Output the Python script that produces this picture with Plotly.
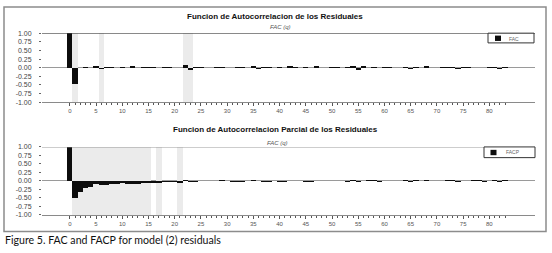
import plotly.graph_objects as go

W, H = 552, 253

lags = list(range(0, 84))

fac = [1.00, -0.48, 0.00, 0.02, -0.02, 0.04, -0.05, 0.02, 0.02, 0.00,
       0.01, -0.02, 0.04, 0.00, 0.01, 0.02, 0.01, 0.00, 0.02, 0.01,
       -0.02, 0.00, 0.08, -0.06, 0.03, 0.01, -0.01, 0.00, 0.02, 0.02,
       -0.02, 0.00, 0.01, 0.01, 0.00, 0.04, -0.03, 0.01, 0.01, 0.00,
       0.01, 0.00, 0.04, 0.01, 0.00, 0.02, 0.00, 0.05, -0.02, 0.00,
       0.01, 0.01, 0.00, 0.01, 0.06, -0.06, 0.04, 0.00, 0.01, 0.00,
       0.02, 0.01, 0.00, -0.01, 0.03, -0.03, 0.03, 0.00, 0.06, -0.01,
       0.00, 0.03, 0.01, 0.03, -0.03, 0.02, 0.01, 0.00, -0.01, 0.00,
       0.03, 0.01, -0.05, 0.03]

facp = [1.00, -0.49, -0.31, -0.22, -0.17, -0.10, -0.12, -0.12, -0.10, -0.08,
        -0.06, -0.10, -0.09, -0.08, -0.07, -0.06, -0.05, -0.05, -0.03, -0.02,
        -0.03, -0.07, 0.03, -0.02, -0.03, 0.00, 0.00, 0.01, 0.00, 0.03,
        0.00, -0.03, -0.03, -0.02, 0.00, 0.03, -0.01, -0.02, -0.02, 0.00,
        -0.03, -0.03, 0.00, 0.00, 0.00, -0.02, -0.02, 0.00, 0.00, -0.01,
        0.00, -0.01, 0.00, -0.03, 0.03, -0.02, 0.00, 0.03, 0.02, -0.02,
        0.00, 0.00, 0.01, 0.00, 0.03, -0.02, 0.02, -0.01, 0.02, 0.00,
        -0.01, 0.01, 0.02, 0.04, -0.02, 0.00, 0.00, 0.02, 0.02, -0.04,
        -0.01, 0.02, -0.04, 0.04]

fac_bands = [1, 6, 22, 23]
facp_bands = [1, 2, 3, 4, 5, 6, 7, 8, 9, 10, 11, 12, 13, 14, 15, 17, 21]

x_tick_vals = list(range(0, 81, 5))
y_tick_vals = [1.0, 0.75, 0.5, 0.25, 0.0, -0.25, -0.5, -0.75, -1.0]
y_tick_text = ["%.2f" % v for v in y_tick_vals]

title_top = "Funcion de Autocorrelacion de los Residuales"
title_bot = "Funcion de Autocorrelacion Parcial de los Residuales"
subtitle = "FAC (q)"
caption = "Figure 5. FAC and FACP for model (2) residuals"


def px(x):
    return x / W


def py(y):
    return 1 - y / H


BAND = "#ebebeb"
BAR = "#0d0d0d"

fig = go.Figure()

fig.add_trace(go.Bar(x=fac_bands, y=[2] * len(fac_bands), base=-1, width=1,
                     marker=dict(color=BAND, line=dict(width=0)),
                     xaxis="x", yaxis="y", showlegend=False, hoverinfo="skip"))
fig.add_trace(go.Bar(x=lags, y=fac, width=1, name="FAC",
                     marker=dict(color=BAR, line=dict(width=0)),
                     xaxis="x", yaxis="y", showlegend=False))
fig.add_trace(go.Bar(x=facp_bands, y=[2] * len(facp_bands), base=-1, width=1,
                     marker=dict(color=BAND, line=dict(width=0)),
                     xaxis="x2", yaxis="y2", showlegend=False, hoverinfo="skip"))
fig.add_trace(go.Bar(x=lags, y=facp, width=1, name="FACP",
                     marker=dict(color=BAR, line=dict(width=0)),
                     xaxis="x2", yaxis="y2", showlegend=False))

xdom = [px(42), px(535)]
xr = [-5.3, 88.7]

xcommon = dict(domain=xdom, range=xr, showgrid=False, zeroline=False,
               showline=True, linecolor="#8a8a8a", linewidth=1,
               ticks="outside", ticklen=3, tickcolor="#555", tickwidth=1,
               tickmode="array", tickvals=x_tick_vals,
               tickfont=dict(family="Liberation Sans", size=6, color="#555"),
               minor=dict(tickmode="array", tickvals=lags, ticks="outside",
                          ticklen=2, tickcolor="#555", tickwidth=1, showgrid=False),
               fixedrange=True)
ycommon = dict(range=[-1, 1], showgrid=False, zeroline=True,
               zerolinecolor="#9a9a9a", zerolinewidth=1, showline=False,
               ticks="outside", ticklen=2, tickcolor="#666",
               tickmode="array", tickvals=y_tick_vals, ticktext=y_tick_text,
               ticklabelstandoff=6,
               tickfont=dict(family="Liberation Sans", size=7, color="#444"),
               fixedrange=True)

shapes = [
    # outer frame
    dict(type="rect", xref="paper", yref="paper", x0=px(4), x1=px(546),
         y0=py(234), y1=py(3), line=dict(color="#8c8c8c", width=1.5)),
    # top lines of panels
    dict(type="line", xref="x domain", yref="y", x0=0, x1=1, y0=1, y1=1,
         line=dict(color="#111", width=1)),
    dict(type="line", xref="x2 domain", yref="y2", x0=0, x1=1, y0=1, y1=1,
         line=dict(color="#8a8a8a", width=1)),
    # legend boxes
    dict(type="rect", xref="paper", yref="paper", x0=px(488), x1=px(534),
         y0=py(40), y1=py(30), line=dict(color="#333", width=1), fillcolor="white"),
    dict(type="rect", xref="paper", yref="paper", x0=px(495), x1=px(501),
         y0=py(38), y1=py(32.5), line=dict(width=0), fillcolor=BAR),
    dict(type="rect", xref="paper", yref="paper", x0=px(484), x1=px(535),
         y0=py(158), y1=py(147), line=dict(color="#333", width=1), fillcolor="white"),
    dict(type="rect", xref="paper", yref="paper", x0=px(490.5), x1=px(496.5),
         y0=py(155.5), y1=py(150), line=dict(width=0), fillcolor=BAR),
]

annotations = [
    dict(text="<b>" + title_top + "</b>", x=px(275), y=py(13), xref="paper", yref="paper",
         showarrow=False, xanchor="center", yanchor="middle",
         font=dict(family="Liberation Sans", size=8, color="#111")),
    dict(text="<i>" + subtitle + "</i>", x=px(280), y=py(24), xref="paper", yref="paper",
         showarrow=False, xanchor="center", yanchor="middle",
         font=dict(family="Liberation Sans", size=6, color="#555")),
    dict(text="<b>" + title_bot + "</b>", x=px(275.5), y=py(129.5), xref="paper", yref="paper",
         showarrow=False, xanchor="center", yanchor="middle",
         font=dict(family="Liberation Sans", size=8, color="#111")),
    dict(text="<i>" + subtitle + "</i>", x=px(277), y=py(143), xref="paper", yref="paper",
         showarrow=False, xanchor="center", yanchor="middle",
         font=dict(family="Liberation Sans", size=6, color="#555")),
    dict(text="FAC", x=px(507), y=py(35.5), xref="paper", yref="paper",
         showarrow=False, xanchor="left", yanchor="middle",
         font=dict(family="Liberation Sans", size=5, color="#666")),
    dict(text="FACP", x=px(504), y=py(152.5), xref="paper", yref="paper",
         showarrow=False, xanchor="left", yanchor="middle",
         font=dict(family="Liberation Sans", size=5, color="#666")),
    dict(text=caption, x=px(3), y=py(242.5), xref="paper", yref="paper",
         showarrow=False, xanchor="left", yanchor="middle",
         font=dict(family="Lato", size=10.6, color="#111")),
]

fig.update_layout(
    width=W, height=H,
    margin=dict(l=0, r=0, t=0, b=0),
    paper_bgcolor="white", plot_bgcolor="white",
    barmode="overlay", bargap=0,
    showlegend=False,
    xaxis=dict(anchor="y", **xcommon),
    yaxis=dict(anchor="x", domain=[py(101), py(30)], **ycommon),
    xaxis2=dict(anchor="y2", **xcommon),
    yaxis2=dict(anchor="x2", domain=[py(217), py(147)], **ycommon),
    shapes=shapes,
    annotations=annotations,
)

fig.write_html("out.html",
               config={"displayModeBar": False, "staticPlot": True},
               post_script="document.body.style.margin='0';document.body.style.overflow='hidden';")
